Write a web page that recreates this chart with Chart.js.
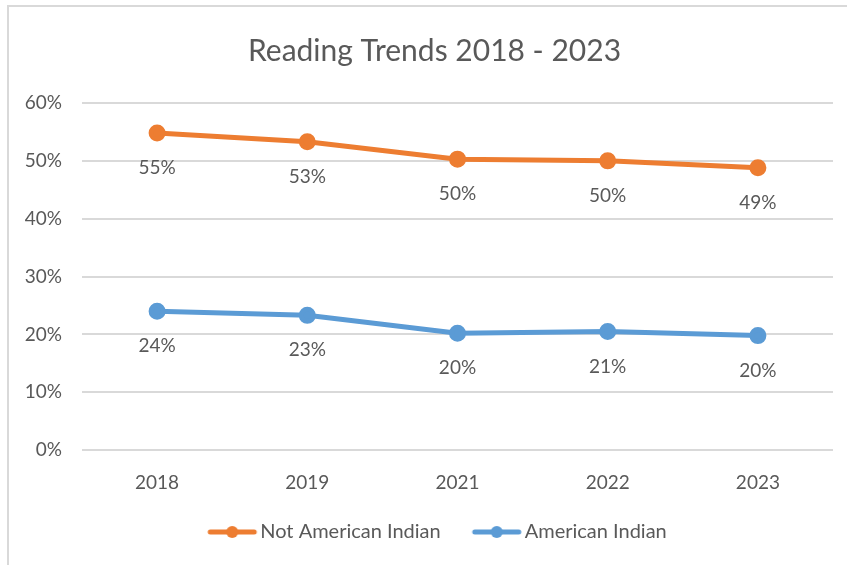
<!DOCTYPE html>
<html>
<head>
<meta charset="utf-8">
<script src="https://cdn.jsdelivr.net/npm/chart.js@4.4.1/dist/chart.umd.min.js"></script>
<style>
  html, body { margin: 0; padding: 0; background: #fff; }
  #wrap { position: relative; width: 847px; height: 565px; overflow: hidden; }
  #frame { position: absolute; left: 7px; top: 5px; width: 850px; height: 570px;
           border-top: 2px solid #d9d9d9; border-left: 2px solid #d9d9d9; }
  #chart { position: absolute; left: 0; top: 0; }
</style>
</head>
<body>
<div id="wrap">
  <div id="frame"></div>
  <canvas id="chart" width="847" height="565"></canvas>
</div>
<script>
// data
const years = ["2018", "2019", "2021", "2022", "2023"];
const notAmericanIndian = [54.8, 53.3, 50.3, 50.0, 48.8];
const americanIndian = [24.0, 23.3, 20.2, 20.5, 19.8];
const notAmericanIndianLabels = ["55%", "53%", "50%", "50%", "49%"];
const americanIndianLabels = ["24%", "23%", "20%", "21%", "20%"];

const ORANGE = "#ED7D31";
const BLUE = "#5B9BD5";
const TEXT = "#595959";
const GRID = "#D9D9D9";
const FONT = "Lato, sans-serif";

// legend marker: thick line with a dot, sitting a bit to the right so it hugs the text
function legendMarker(color) {
  const c = document.createElement("canvas");
  c.width = 60; c.height = 14;
  const g = c.getContext("2d");
  g.strokeStyle = color;
  g.lineWidth = 5;
  g.lineCap = "round";
  g.beginPath(); g.moveTo(12, 7); g.lineTo(56, 7); g.stroke();
  g.fillStyle = color;
  g.beginPath(); g.arc(34, 7, 6, 0, Math.PI * 2); g.fill();
  return c;
}

// value labels under each point
const pointLabels = {
  id: "pointLabels",
  afterDatasetsDraw(chart) {
    const ctx = chart.ctx;
    ctx.save();
    ctx.font = "19px " + FONT;
    ctx.fillStyle = TEXT;
    ctx.textAlign = "center";
    ctx.textBaseline = "middle";
    chart.data.datasets.forEach((ds, i) => {
      const meta = chart.getDatasetMeta(i);
      meta.data.forEach((pt, j) => {
        ctx.fillText(ds.valueLabels[j], pt.x, pt.y + 35);
      });
    });
    ctx.restore();
  }
};

// title and legend sit a little right of the canvas centre in the original
const nudgeBoxes = {
  id: "nudgeBoxes",
  afterLayout(chart) {
    chart.titleBlock.left += 36;
    chart.legend.left += 40;
  }
};

new Chart(document.getElementById("chart"), {
  type: "line",
  data: {
    labels: years,
    datasets: [
      {
        label: "Not American Indian",
        data: notAmericanIndian,
        valueLabels: notAmericanIndianLabels,
        borderColor: ORANGE,
        backgroundColor: ORANGE,
        borderWidth: 5,
        pointRadius: 6,
        pointHoverRadius: 6,
        tension: 0,
        legendImg: legendMarker(ORANGE),
      },
      {
        label: "American Indian",
        data: americanIndian,
        valueLabels: americanIndianLabels,
        borderColor: BLUE,
        backgroundColor: BLUE,
        borderWidth: 5,
        pointRadius: 6,
        pointHoverRadius: 6,
        tension: 0,
        legendImg: legendMarker(BLUE),
      },
    ],
  },
  options: {
    responsive: false,
    animation: false,
    layout: { padding: { left: 0, right: 14, top: 20, bottom: 13 } },
    plugins: {
      title: {
        display: true,
        text: "Reading Trends 2018 - 2023",
        color: TEXT,
        font: { family: FONT, size: 30, weight: "normal" },
        padding: { top: 13, bottom: 34 },
      },
      legend: {
        position: "bottom",
        labels: {
          color: TEXT,
          font: { family: FONT, size: 20 },
          usePointStyle: true,
          pointStyleWidth: 44,
          padding: 30,
          generateLabels(chart) {
            return chart.data.datasets.map((ds, i) => ({
              text: ds.label,
              fontColor: TEXT,
              pointStyle: ds.legendImg,
              lineWidth: 0,
              strokeStyle: "transparent",
              fillStyle: ds.borderColor,
              datasetIndex: i,
              hidden: false,
            }));
          },
        },
      },
      tooltip: { enabled: false },
    },
    scales: {
      x: {
        offset: true,
        grid: { display: false },
        border: { display: false },
        afterFit(scale) { scale.height = scale.height - 15; },
        ticks: { color: TEXT, font: { family: FONT, size: 19 }, padding: 13 },
      },
      y: {
        min: 0,
        max: 60,
        grid: { color: GRID, lineWidth: 2, drawTicks: false },
        border: { display: false },
        afterFit(scale) { scale.width = 82; },
        ticks: {
          stepSize: 10,
          color: TEXT,
          font: { family: FONT, size: 19 },
          padding: 20,
          callback: (v) => v + "%",
        },
      },
    },
  },
  plugins: [pointLabels, nudgeBoxes],
});
</script>
</body>
</html>
